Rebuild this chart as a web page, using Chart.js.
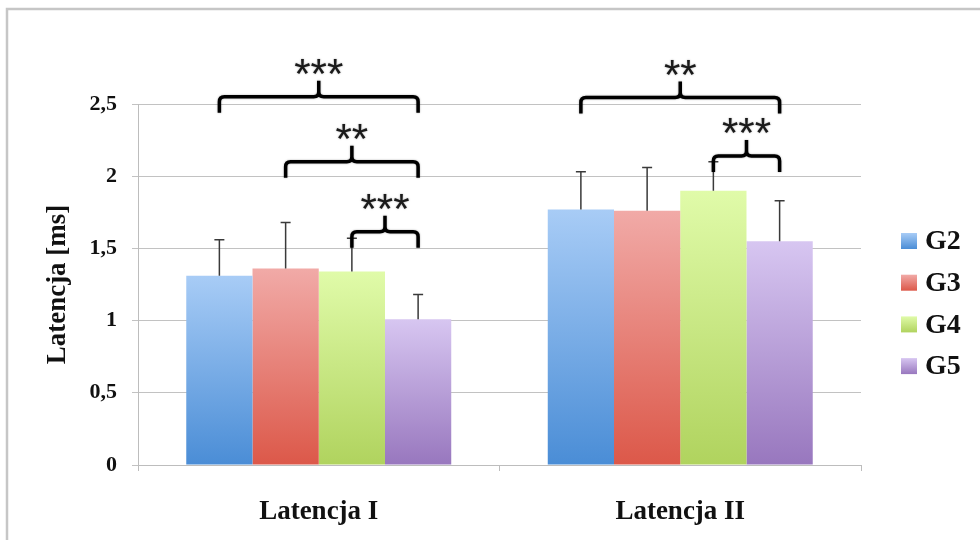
<!DOCTYPE html>
<html><head><meta charset="utf-8">
<script src="https://cdn.jsdelivr.net/npm/chart.js@4/dist/chart.umd.min.js"></script>
<style>html,body{margin:0;padding:0;background:#fff}canvas{display:block}</style>
</head><body>
<canvas id="c" width="980" height="540"></canvas>
<script>
// ---- data ----
const categories = ['Latencja I', 'Latencja II'];
const seriesNames = ['G2', 'G3', 'G4', 'G5'];
const g2Values = [1.31, 1.77];
const g3Values = [1.36, 1.76];
const g4Values = [1.34, 1.90];
const g5Values = [1.01, 1.55];
const g2Errors = [0.25, 0.26];
const g3Errors = [0.32, 0.30];
const g4Errors = [0.23, 0.20];
const g5Errors = [0.17, 0.28];
const yTickLabels = ['0', '0,5', '1', '1,5', '2', '2,5'];
// significance brackets: category index, first/last series index, level (ms), label
const bracketCats = [0, 0, 0, 1, 1];
const bracketFrom = [0, 1, 2, 0, 2];
const bracketTo = [3, 3, 3, 3, 3];
const bracketLevels = [2.55, 2.10, 1.615, 2.545, 2.14];
const bracketLabels = ['***', '**', '***', '**', '***'];

// ---- styles ----
const topColors = ['#a8ccf6', '#f1aaa7', '#e0fba9', '#d7c6f1'];
const bottomColors = ['#4a8dd6', '#dc5849', '#b0d35e', '#9877be'];
const serif = '"Liberation Serif", "Times New Roman", serif';

const valueSets = [g2Values, g3Values, g4Values, g5Values];
const errorSets = [g2Errors, g3Errors, g4Errors, g5Errors];

function barGradient(ctx) {
  const chart = ctx.chart;
  const ds = ctx.datasetIndex;
  if (!chart.chartArea || ctx.type !== 'data') return bottomColors[ds];
  const y = chart.scales.y;
  const yTop = y.getPixelForValue(ctx.raw);
  const yBot = y.getPixelForValue(0);
  const g = chart.ctx.createLinearGradient(0, yTop, 0, yBot);
  g.addColorStop(0, topColors[ds]);
  g.addColorStop(1, bottomColors[ds]);
  return g;
}

const datasets = seriesNames.map((name, i) => ({
  label: name,
  data: valueSets[i],
  errors: errorSets[i],
  backgroundColor: barGradient,
  borderWidth: 0,
  barPercentage: 1,
  categoryPercentage: 0.733
}));

const decor = {
  id: 'decor',
  beforeDraw(chart) {
    const c = chart.ctx;
    c.save();
    c.fillStyle = '#fff';
    c.fillRect(0, 0, chart.width, chart.height);
    c.strokeStyle = '#c6c6c6';
    c.lineWidth = 2.5;
    c.beginPath();
    c.moveTo(7, 545); c.lineTo(7, 9); c.lineTo(985, 9);
    c.stroke();
    c.restore();
  },
  afterDatasetsDraw(chart) {
    const c = chart.ctx;
    const ys = chart.scales.y;
    c.save();
    // error bars
    c.strokeStyle = '#3a3a3a';
    c.lineWidth = 1.5;
    chart.data.datasets.forEach((ds, di) => {
      const meta = chart.getDatasetMeta(di);
      meta.data.forEach((bar, k) => {
        const v = ds.data[k], e = ds.errors[k];
        const yb = ys.getPixelForValue(v);
        const yt = ys.getPixelForValue(v + e);
        c.beginPath();
        c.moveTo(bar.x, yb); c.lineTo(bar.x, yt);
        c.moveTo(bar.x - 5, yt); c.lineTo(bar.x + 5, yt);
        c.stroke();
      });
    });
    // brackets
    c.strokeStyle = '#000';
    c.fillStyle = '#1a1a1a';
    c.lineWidth = 3.5;
    c.lineJoin = 'round';
    c.shadowColor = 'rgba(0,0,0,0.35)';
    c.shadowBlur = 2;
    bracketLabels.forEach((lab, i) => {
      const x1 = chart.getDatasetMeta(bracketFrom[i]).data[bracketCats[i]].x;
      const x2 = chart.getDatasetMeta(bracketTo[i]).data[bracketCats[i]].x;
      const y = ys.getPixelForValue(bracketLevels[i]);
      const d = 16, r = 5, p = 16, xm = (x1 + x2) / 2;
      c.beginPath();
      c.moveTo(x1, y + d);
      c.lineTo(x1, y + r);
      c.quadraticCurveTo(x1, y, x1 + r, y);
      c.lineTo(xm - r, y);
      c.quadraticCurveTo(xm, y, xm, y - r);
      c.lineTo(xm, y - p);
      c.moveTo(xm, y - r);
      c.quadraticCurveTo(xm, y, xm + r, y);
      c.lineTo(x2 - r, y);
      c.quadraticCurveTo(x2, y, x2, y + r);
      c.lineTo(x2, y + d);
      c.stroke();
      c.font = '42px "Liberation Sans", Arial, sans-serif';
      c.textAlign = 'center';
      c.textBaseline = 'alphabetic';
      c.fillText(lab, xm, y - 31 + 22);
    });
    c.shadowBlur = 0;
    c.shadowColor = 'transparent';
    // legend
    chart.data.datasets.forEach((ds, i) => {
      const cy = 241 + i * 41.7;
      const g = c.createLinearGradient(0, cy - 8, 0, cy + 8);
      g.addColorStop(0, topColors[i]);
      g.addColorStop(1, bottomColors[i]);
      c.fillStyle = g;
      c.fillRect(901, cy - 8, 16, 16);
      c.fillStyle = '#111';
      c.font = 'bold 28px ' + serif;
      c.textAlign = 'left';
      c.textBaseline = 'middle';
      c.fillText(ds.label, 925, cy + 1);
    });
    c.restore();
  }
};

new Chart(document.getElementById('c'), {
  type: 'bar',
  data: { labels: categories, datasets },
  plugins: [decor],
  options: {
    responsive: false,
    devicePixelRatio: 1,
    animation: false,
    layout: { padding: { top: 104, right: 119, bottom: 0, left: 0 } },
    plugins: { legend: { display: false }, tooltip: { enabled: false } },
    scales: {
      x: {
        grid: { offset: true, drawOnChartArea: false, drawTicks: true, tickLength: 6, color: '#bdbdbd' },
        border: { color: '#bdbdbd' },
        ticks: { font: { family: serif, weight: 'bold', size: 27 }, color: '#111', padding: 25 },
        afterFit(s) { s.height = 75; }
      },
      y: {
        min: 0, max: 2.5,
        ticks: {
          stepSize: 0.5,
          callback: (v, i) => yTickLabels[i],
          font: { family: serif, weight: 'bold', size: 22 }, color: '#111', padding: 15
        },
        grid: { color: '#c2c2c2', tickLength: 6, drawTicks: true },
        border: { color: '#bdbdbd' },
        title: { display: true, text: 'Latencja [ms]', font: { family: serif, weight: 'bold', size: 27 }, color: '#111', padding: { top: 42, bottom: 0 } },
        afterFit(s) { s.width = 138; }
      }
    }
  }
});
</script>
</body></html>
